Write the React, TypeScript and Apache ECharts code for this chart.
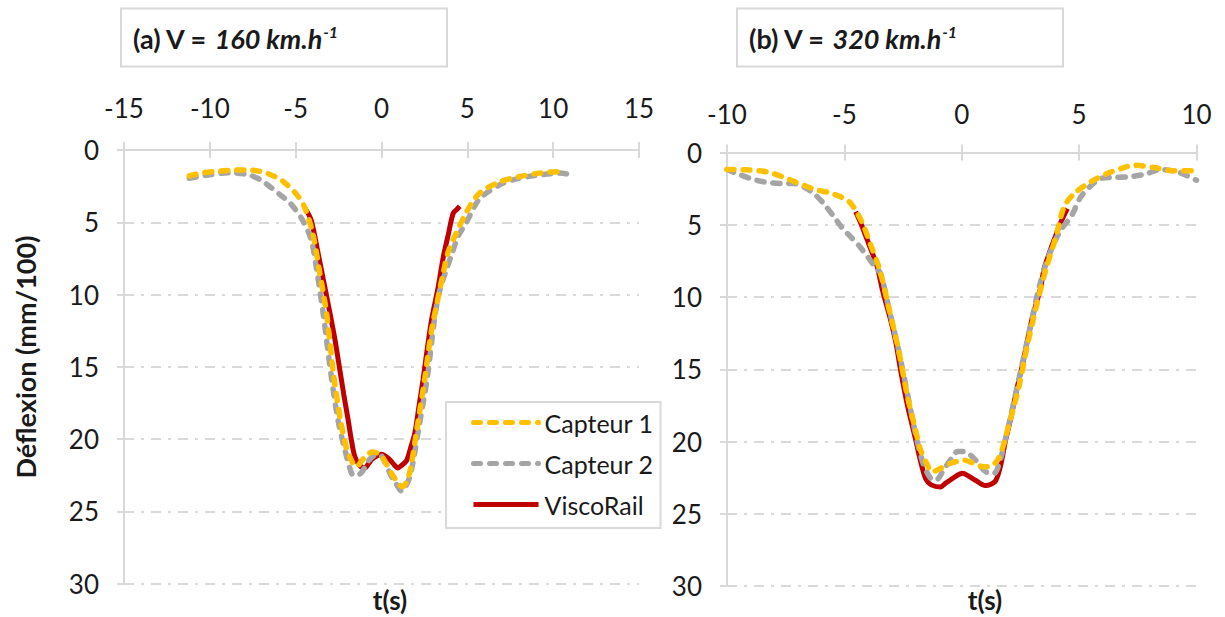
import React, { useEffect, useRef } from "react";
import * as echarts from "echarts";

// ---- data (t in s, deflexion in mm/100) ----
const xTicksA = [-15, 15, 5];
const xTicksB = [-10, 10, 5];
const yTicks = [0, 30, 5];
const seriesNames = ["Capteur 1", "Capteur 2", "ViscoRail"];

const a_capteur1 = [
  [-11.2, 1.8], [-10.5, 1.6], [-9.8, 1.5], [-8.8, 1.4], [-7.9, 1.38], [-7.2, 1.45], [-6.7, 1.6],
  [-6.2, 1.85], [-5.7, 2.2], [-5.0, 3.0], [-4.5, 3.9], [-4.0, 5.8], [-3.6, 8.5], [-3.2, 11.3],
  [-2.8, 15.5], [-2.4, 18.6], [-2.05, 20.6], [-1.7, 21.6], [-1.45, 21.9], [-1.15, 21.5],
  [-0.85, 21.1], [-0.5, 20.9], [-0.2, 21.0], [0.1, 21.35], [0.4, 22.0], [0.7, 22.6], [1.0, 23.1],
  [1.2, 23.3], [1.45, 23.0], [1.7, 22.0], [2.05, 19.4], [2.5, 16.0], [2.9, 12.6], [3.3, 10.2],
  [3.6, 8.5], [3.9, 7.0], [4.3, 5.9], [4.95, 4.3], [5.7, 3.0], [6.9, 2.2], [8.0, 1.85],
  [9.2, 1.6], [10.4, 1.5], [10.6, 1.5],
];
const a_capteur2 = [
  [-11.2, 1.95], [-10.2, 1.75], [-8.8, 1.57], [-7.7, 1.73], [-7.0, 2.1], [-6.5, 2.54], [-5.9, 3.1],
  [-5.3, 3.7], [-4.6, 4.85], [-4.1, 6.2], [-3.8, 8.1], [-3.4, 11.3], [-2.9, 15.9], [-2.5, 18.9],
  [-2.1, 20.9], [-1.85, 22.0], [-1.65, 22.5], [-1.4, 22.5], [-1.15, 22.3], [-0.9, 21.8],
  [-0.65, 21.35], [-0.35, 21.1], [-0.1, 21.1], [0.2, 21.6], [0.5, 22.4], [0.85, 23.1],
  [1.17, 23.6], [1.4, 23.3], [1.65, 22.6], [1.9, 21.2], [2.15, 19.4], [2.65, 15.9], [3.1, 11.6],
  [3.4, 9.7], [3.8, 8.2], [4.1, 7.2], [4.45, 6.0], [4.95, 5.0], [5.7, 3.4], [6.9, 2.4],
  [8.0, 1.96], [9.2, 1.73], [10.4, 1.6], [11.0, 1.7],
];
const a_viscorail = [
  [-4.47, 4.0], [-4.1, 4.85], [-3.7, 7.1], [-3.4, 8.9], [-3.0, 11.3], [-2.7, 13.2], [-2.43, 15.2],
  [-2.2, 16.9], [-1.94, 18.7], [-1.75, 20.1], [-1.56, 21.2], [-1.3, 21.8], [-0.97, 22.0],
  [-0.75, 21.7], [-0.55, 21.4], [-0.3, 21.2], [0, 21.05], [0.25, 21.2], [0.5, 21.45],
  [0.75, 21.8], [0.95, 22.0], [1.2, 21.8], [1.46, 21.5], [1.7, 20.6], [1.94, 19.6], [2.2, 17.6],
  [2.42, 15.9], [2.65, 13.9], [2.91, 11.8], [3.3, 9.5], [3.6, 7.4], [3.9, 5.8], [4.17, 4.4],
  [4.4, 4.1], [4.56, 3.9],
];

const b_capteur1 = [
  [-10, 1.18], [-9.2, 1.2], [-8.3, 1.34], [-7.6, 1.7], [-7.15, 2.0], [-6.6, 2.35], [-6.16, 2.6],
  [-5.6, 2.8], [-5.16, 3.07], [-4.8, 3.4], [-4.52, 4.0], [-4.2, 5.0], [-3.9, 6.3], [-3.5, 8.1],
  [-3.1, 10.8], [-2.7, 13.6], [-2.31, 16.9], [-2.0, 19.0], [-1.75, 20.6], [-1.5, 21.5],
  [-1.25, 22.1], [-0.95, 21.9], [-0.61, 21.6], [-0.25, 21.4], [0.1, 21.3], [0.5, 21.5],
  [0.95, 21.75], [1.25, 21.7], [1.52, 21.3], [1.75, 20.4], [1.95, 19.2], [2.2, 17.7],
  [2.44, 16.2], [2.8, 13.3], [3.2, 10.5], [3.6, 8.0], [4.0, 5.9], [4.36, 3.76], [4.79, 2.84],
  [5.5, 2.03], [6.2, 1.45], [6.8, 1.1], [7.34, 0.88], [8.2, 1.04], [9.05, 1.27], [10, 1.27],
];
const b_capteur2 = [
  [-10, 1.18], [-9.5, 1.5], [-9.0, 1.8], [-8.3, 2.07], [-7.6, 2.15], [-7.15, 2.15], [-6.7, 2.4],
  [-6.3, 2.84], [-5.9, 3.5], [-5.44, 4.46], [-5.1, 5.2], [-4.73, 5.84], [-4.35, 6.5],
  [-4.02, 7.2], [-3.7, 7.9], [-3.45, 8.4], [-3.1, 10.8], [-2.7, 13.6], [-2.3, 16.8],
  [-1.95, 19.6], [-1.65, 21.5], [-1.35, 22.5], [-1.11, 22.7], [-0.75, 21.9], [-0.45, 21.2],
  [-0.18, 20.7], [0.1, 20.7], [0.38, 20.95], [0.7, 21.5], [0.95, 22.0], [1.2, 22.2],
  [1.38, 22.2], [1.6, 21.5], [1.85, 19.9], [2.2, 17.4], [2.5, 15.2], [2.9, 12.2], [3.3, 9.3],
  [3.7, 7.2], [4.2, 5.4], [4.65, 4.46], [5.07, 3.07], [5.5, 2.3], [5.92, 1.8], [6.5, 1.72],
  [7.06, 1.69], [7.77, 1.52], [8.48, 1.18], [9.19, 1.34], [10, 1.92],
];
const b_viscorail = [
  [-4.52, 4.1], [-4.3, 4.9], [-4.02, 6.07], [-3.8, 7.0], [-3.6, 7.9], [-3.38, 9.5], [-3.03, 11.6],
  [-2.8, 13.2], [-2.6, 15.1], [-2.3, 17.6], [-1.96, 19.9], [-1.75, 21.4], [-1.53, 22.6],
  [-1.3, 23.0], [-0.9, 23.15], [-0.7, 22.9], [-0.47, 22.65], [-0.2, 22.35], [0.03, 22.2],
  [0.3, 22.4], [0.6, 22.7], [1.0, 23.05], [1.2, 23.0], [1.45, 22.7], [1.65, 21.7], [1.87, 19.9],
  [2.1, 18.3], [2.37, 16.2], [2.6, 14.6], [2.8, 13.0], [3.01, 11.4], [3.2, 10.3], [3.37, 9.3],
  [3.5, 8.1], [3.7, 7.1], [3.93, 6.07], [4.2, 4.9], [4.5, 3.88],
];

const FONT = "Lato, 'Open Sans', sans-serif";
const GRID_GRAY = "#d9d9d9";
const TXT = "#1a1a1a";
const COLORS = ["#FFC000", "#A5A5A5", "#C00000"];

function xAxes(gridIndex: number, t: number[], labelMargin: number) {
  const base = {
    type: "value",
    gridIndex,
    position: "top",
    min: t[0],
    max: t[1],
    interval: t[2],
    splitLine: { show: false },
  };
  return [
    {
      ...base,
      axisLine: { show: true, onZero: false, lineStyle: { color: GRID_GRAY, width: 2 } },
      axisTick: { show: true, length: 8, lineStyle: { color: GRID_GRAY, width: 2 } },
      axisLabel: { fontSize: 26, fontFamily: FONT, color: TXT, margin: labelMargin },
    },
    {
      ...base,
      axisLine: { show: false, onZero: false },
      axisTick: { show: true, inside: true, length: 8, lineStyle: { color: GRID_GRAY, width: 2 } },
      axisLabel: { show: false },
    },
  ];
}

function yAxis(gridIndex: number) {
  return {
    type: "value",
    gridIndex,
    inverse: true,
    min: yTicks[0],
    max: yTicks[1],
    interval: yTicks[2],
    axisLine: { show: true, onZero: false, lineStyle: { color: GRID_GRAY, width: 2 } },
    axisTick: { show: true, length: 7, lineStyle: { color: GRID_GRAY, width: 2 } },
    axisLabel: { fontSize: 26, fontFamily: FONT, color: TXT, margin: 25 },
    splitLine: {
      show: true,
      lineStyle: { color: GRID_GRAY, width: 2, type: [10, 7, 3, 7] },
    },
  };
}

function mkSeries(name: string, data: number[][], idx: number, xi: number, yi: number) {
  const dashed = idx < 2;
  return {
    type: "line",
    name,
    xAxisIndex: xi,
    yAxisIndex: yi,
    data,
    showSymbol: false,
    symbol: "none",
    smooth: 0.3,
    z: 2 + (2 - idx),
    lineStyle: {
      color: COLORS[idx],
      width: dashed ? 5.5 : 5,
      type: dashed ? [7, 9] : "solid",
      cap: dashed ? "round" : "butt",
    },
    itemStyle: { color: COLORS[idx] },
  };
}

function titleBox(x: number, label: string, speed: string) {
  return [
    {
      type: "rect",
      shape: { x, y: 8.5, width: 326, height: 58 },
      style: { fill: "#fff", stroke: GRID_GRAY, lineWidth: 2 },
    },
    {
      type: "text",
      x: x + 12,
      y: 38,
      style: {
        text: `{n|${label} V = }{i|${speed} km.h}{s|-1}`,
        verticalAlign: "middle",
        rich: {
          n: { fontSize: 27, fontWeight: "bold", fontFamily: FONT, fill: TXT, color: TXT },
          i: { fontSize: 27, fontWeight: "bold", fontStyle: "italic", fontFamily: FONT, fill: TXT, color: TXT },
          s: { fontSize: 16, fontWeight: "bold", fontStyle: "italic", fontFamily: FONT, fill: TXT, color: TXT, padding: [0, 0, 13, 1] },
        },
      },
    },
  ];
}

export default function App() {
  const ref = useRef<HTMLDivElement>(null);
  useEffect(() => {
    if (!ref.current) return;
    const chart = echarts.init(ref.current, null, { renderer: "svg" });
    chart.setOption({
      animation: false,
      backgroundColor: "#fff",
      grid: [
        { left: 124, top: 150, width: 515, height: 433.5 },
        { left: 727, top: 152.5, width: 469.5, height: 433.5 },
      ],
      xAxis: [...xAxes(0, xTicksA, 29), ...xAxes(1, xTicksB, 26)],
      yAxis: [yAxis(0), yAxis(1)],
      legend: {
        data: seriesNames,
        orient: "vertical",
        left: 446,
        top: 402,
        itemWidth: 65,
        itemHeight: 14,
        itemGap: 16,
        padding: [8, 7, 11, 25],
        backgroundColor: "#fff",
        borderColor: GRID_GRAY,
        borderWidth: 2,
        borderRadius: 0,
        itemStyle: { opacity: 0 },
        lineStyle: { width: 5 },
        textStyle: { fontSize: 25, fontFamily: FONT, color: TXT, padding: [0, 0, 0, 1] },
        selectedMode: false,
      },
      series: [
        mkSeries(seriesNames[0], a_capteur1, 0, 0, 0),
        mkSeries(seriesNames[1], a_capteur2, 1, 0, 0),
        mkSeries(seriesNames[2], a_viscorail, 2, 0, 0),
        mkSeries(seriesNames[0], b_capteur1, 0, 2, 1),
        mkSeries(seriesNames[1], b_capteur2, 1, 2, 1),
        mkSeries(seriesNames[2], b_viscorail, 2, 2, 1),
      ],
      graphic: [
        ...titleBox(121, "(a)", "160"),
        ...titleBox(737, "(b)", "320"),
        {
          type: "text",
          x: 25,
          y: 357,
          rotation: Math.PI / 2,
          style: {
            text: "Déflexion (mm/100)",
            fontSize: 27,
            fontWeight: "bold",
            fontFamily: FONT,
            fill: TXT,
            align: "center",
            verticalAlign: "middle",
          },
        },
        {
          type: "text",
          x: 390,
          y: 600,
          style: { text: "t(s)", fontSize: 26, fontWeight: "bold", fontFamily: FONT, fill: TXT, align: "center", verticalAlign: "middle" },
        },
        {
          type: "text",
          x: 985,
          y: 600,
          style: { text: "t(s)", fontSize: 26, fontWeight: "bold", fontFamily: FONT, fill: TXT, align: "center", verticalAlign: "middle" },
        },
      ],
    });
    return () => chart.dispose();
  }, []);
  return (
    <div
      ref={ref}
      style={{ position: "absolute", left: 0, top: 0, width: 1225, height: 617 }}
    />
  );
}
